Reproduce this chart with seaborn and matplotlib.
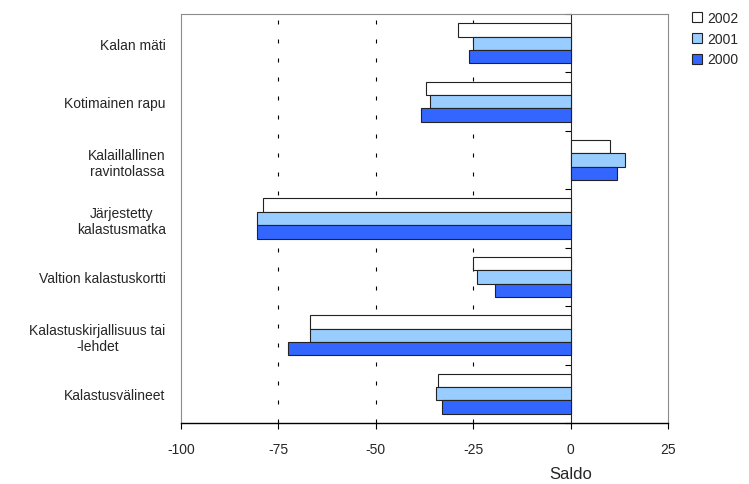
import matplotlib
matplotlib.use("Agg")
import matplotlib.pyplot as plt
from matplotlib.patches import Patch
import numpy as np
import pandas as pd
import seaborn as sns

# Survey balance (saldo) per product, by year
categories = [
    "Kalan mäti",
    "Kotimainen rapu",
    "Kalaillallinen\nravintolassa",
    "Järjestetty\nkalastusmatka",
    "Valtion kalastuskortti",
    "Kalastuskirjallisuus tai\n-lehdet",
    "Kalastusvälineet",
]
years = ["2002", "2001", "2000"]
saldo_2002 = [-29, -37, 10, -79, -25, -67, -34]
saldo_2001 = [-25, -36, 14, -80.5, -24, -67, -34.5]
saldo_2000 = [-26, -38.5, 12, -80.5, -19.5, -72.5, -33]
x_ticks = [-100, -75, -50, -25, 0, 25]
colors = {"2002": "#FFFFFF", "2001": "#99CCFF", "2000": "#3366FF"}

df = pd.DataFrame({
    "Kohde": categories * 3,
    "Vuosi": [y for y in years for _ in categories],
    "Saldo": saldo_2002 + saldo_2001 + saldo_2000,
})

sns.set_style("white")
plt.rcParams["font.family"] = ["Liberation Sans", "DejaVu Sans"]

fig = plt.figure(figsize=(7.49, 4.85), dpi=100)
ax = fig.add_axes([181 / 749, 1 - 424 / 485, (668 - 181) / 749, (424 - 15) / 485])

sns.barplot(
    data=df, x="Saldo", y="Kohde", hue="Vuosi", order=categories,
    hue_order=years, palette=colors, saturation=1, orient="h", width=0.685,
    edgecolor="#222222", linewidth=0.8, legend=False, ax=ax,
)

ax.set_xlim(x_ticks[0], x_ticks[-1])
ax.set_ylim(len(categories) - 0.5, -0.5)
ax.set_xticks(x_ticks)
ax.set_xticklabels([str(v) for v in x_ticks])
ax.set_ylabel("")
ax.set_xlabel("Saldo", fontsize=12)
zero_pos = (0 - x_ticks[0]) / (x_ticks[-1] - x_ticks[0])
ax.xaxis.set_label_coords(zero_pos, -0.105)

# Dashed vertical gridlines only between the frame and the zero line
ax.xaxis.grid(True, color="#000000", linewidth=0.8, linestyle=(0, (3.6, 13.5)))
for line, val in zip(ax.xaxis.get_gridlines(), x_ticks):
    if val in (x_ticks[0], 0, x_ticks[-1]):
        line.set_visible(False)
ax.set_axisbelow(True)

ax.tick_params(axis="x", direction="out", length=4, width=0.8, color="#000000",
               pad=10, labelsize=10, bottom=True)
ax.tick_params(axis="y", length=0, pad=11, labelsize=10)
for t in ax.get_yticklabels():
    t.set_multialignment("center")

for side in ("top", "left", "right"):
    ax.spines[side].set_color("#8c8c8c")
    ax.spines[side].set_linewidth(0.8)
ax.spines["bottom"].set_color("#000000")
ax.spines["bottom"].set_linewidth(1.0)

# Category axis crossing at zero, with ticks between categories
sec = ax.secondary_yaxis(zero_pos)
sec.set_yticks(np.arange(len(categories) + 1) - 0.5)
sec.set_yticklabels([])
sec.tick_params(axis="y", direction="in", length=4, width=0.8, color="#000000")
sec.spines["left"].set_color("#000000")
sec.spines["left"].set_linewidth(1.0)

handles = [Patch(facecolor=colors[y], edgecolor="#222222", linewidth=0.8, label=y)
           for y in years]
fig.legend(handles=handles, loc="upper left", bbox_to_anchor=(686 / 749, 1 - 6 / 485),
           frameon=False, fontsize=10, handlelength=0.75, handleheight=0.75,
           handletextpad=0.35, labelspacing=0.5, borderaxespad=0)

fig.savefig("out.png", dpi=100)
